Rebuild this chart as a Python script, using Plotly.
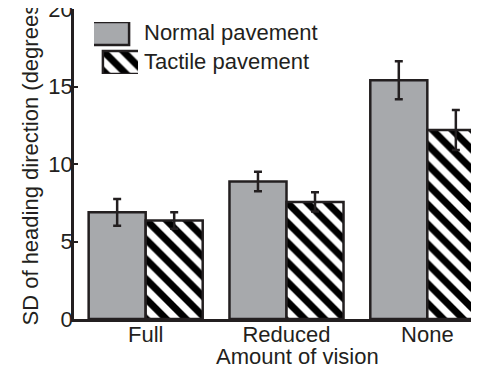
import plotly.graph_objects as go

categories = ["Full", "Reduced", "None"]
normal_vals = [6.88, 8.87, 15.4]
normal_err = [0.86, 0.63, 1.23]
tactile_vals = [6.36, 7.55, 12.19]
tactile_err = [0.53, 0.62, 1.29]
y_ticks = [0, 5, 10, 15, 20]

# page has an 8px body margin: figure coordinates = page coordinates - OFF
OFF = 8
W, H = 471, 360
L, R, T, B = 66, 0, 1, 49
line_col = "#231f20"
gray = "#a7a9ac"
font = "Liberation Sans, Arial, sans-serif"
FS = 22

hatch = dict(shape="\\", fgcolor="black", bgcolor="white", size=14, solidity=0.5, fgopacity=1)

fig = go.Figure()
fig.add_trace(go.Bar(
    x=[0, 1, 2], y=normal_vals, name="Normal pavement",
    marker=dict(color=gray, line=dict(color=line_col, width=2.5)),
    error_y=dict(type="data", array=normal_err, color=line_col, thickness=2.5, width=4),
    showlegend=False,
))
fig.add_trace(go.Bar(
    x=[0, 1, 2], y=tactile_vals, name="Tactile pavement",
    marker=dict(color="white", line=dict(color=line_col, width=2.5), pattern=hatch),
    error_y=dict(type="data", array=tactile_err, color=line_col, thickness=2.5, width=4),
    showlegend=False,
))

pw, ph = W - L - R, H - T - B
def px_x(p):  # page pixel -> paper
    return (p - OFF - L) / pw
def px_y(p):
    return 1 - (p - OFF - T) / ph

# custom legend boxes on a hidden axis (pixel-like units)
fig.add_trace(go.Bar(
    x=[0.5], y=[23], base=[29], width=[1], xaxis="x2", yaxis="y2",
    marker=dict(color=gray, line=dict(color=line_col, width=2.5)), showlegend=False, hoverinfo="skip",
))
fig.add_trace(go.Bar(
    x=[0.5], y=[23], base=[0], width=[1], xaxis="x2", yaxis="y2",
    marker=dict(color="white", line=dict(color=line_col, width=2.5), pattern=hatch),
    showlegend=False, hoverinfo="skip",
))

fig.update_layout(
    width=W, height=H,
    margin=dict(l=L, r=R, t=T, b=B, autoexpand=False),
    paper_bgcolor="white", plot_bgcolor="white",
    barmode="group", bargap=0.19, bargroupgap=0,
    font=dict(family=font, size=FS, color=line_col),
    xaxis=dict(
        range=[-0.509, 2.367], tickvals=[0, 1, 2], ticktext=categories,
        showline=True, linecolor=line_col, linewidth=2.5, ticks="",
        showgrid=False, zeroline=False, tickfont=dict(size=FS), automargin=False,
        ticklabelstandoff=-6,
    ),
    yaxis=dict(
        range=[0, 20], tickvals=y_ticks, showline=True, linecolor=line_col, linewidth=2.5,
        ticks="inside", ticklen=4, tickwidth=2, tickcolor=line_col,
        showgrid=False, zeroline=False, tickfont=dict(size=FS), automargin=False,
        ticklabelstandoff=-6, ticklabeloverflow="allow",
    ),
    xaxis2=dict(domain=[px_x(94), px_x(138)], range=[0, 1], visible=False, fixedrange=True, anchor="y2"),
    yaxis2=dict(domain=[px_y(74), px_y(22)], range=[0, 52], visible=False, fixedrange=True, anchor="x2"),
    showlegend=False,
)

fig.add_annotation(x=px_x(142), y=px_y(32.5), xref="paper", yref="paper", text="Normal pavement",
                   showarrow=False, xanchor="left", yanchor="middle", font=dict(size=FS))
fig.add_annotation(x=px_x(142), y=px_y(61.5), xref="paper", yref="paper", text="Tactile pavement",
                   showarrow=False, xanchor="left", yanchor="middle", font=dict(size=FS))
fig.add_annotation(x=px_x(297), y=px_y(356), xref="paper", yref="paper", text="Amount of vision",
                   showarrow=False, xanchor="center", yanchor="middle", font=dict(size=FS))
fig.add_annotation(x=px_x(30), y=px_y(328), xref="paper", yref="paper",
                   text="SD of heading direction (degrees)", textangle=-90,
                   showarrow=False, xanchor="center", yanchor="bottom", font=dict(size=FS))

fig.write_html("out.html")
